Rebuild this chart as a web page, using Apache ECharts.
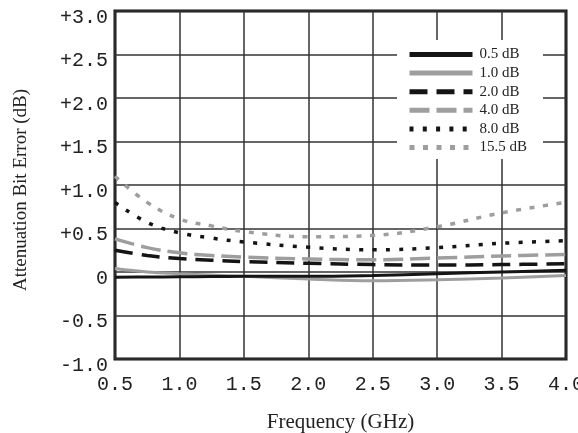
<!DOCTYPE html>
<html>
<head>
<meta charset="utf-8">
<script src="https://cdn.jsdelivr.net/npm/echarts@6/dist/echarts.min.js"></script>
<style>
html,body{margin:0;padding:0;background:#fff;}
#c{width:578px;height:433px;}
</style>
</head>
<body>
<div id="c"></div>
<script>
var freqs = [0.5, 0.75, 1.0, 1.25, 1.5, 2.0, 2.5, 3.0, 3.5, 4.0];
var names = ['0.5 dB', '1.0 dB', '2.0 dB', '4.0 dB', '8.0 dB', '15.5 dB'];
var err05  = [-0.06, -0.058, -0.055, -0.052, -0.05, -0.05, -0.04, -0.02, 0.0, 0.02];
var err10  = [0.04, 0.0, -0.02, -0.035, -0.05, -0.08, -0.1, -0.09, -0.07, -0.04];
var err20  = [0.25, 0.19, 0.155, 0.135, 0.12, 0.1, 0.085, 0.08, 0.085, 0.095];
var err40  = [0.38, 0.28, 0.22, 0.19, 0.17, 0.15, 0.14, 0.16, 0.185, 0.2];
var err80  = [0.8, 0.57, 0.45, 0.39, 0.345, 0.285, 0.255, 0.28, 0.33, 0.36];
var err155 = [1.1, 0.8, 0.61, 0.53, 0.465, 0.405, 0.42, 0.52, 0.68, 0.8];
var yTitle = 'Attenuation Bit Error (dB)';
var xTitle = 'Frequency (GHz)';

var BLACK = '#141414', GRAY = '#9e9e9e';
function pairs(arr){ return freqs.map(function(f,i){ return [f, arr[i]]; }); }
var styles = [
  {color: BLACK, type: 'solid', width: 3},
  {color: GRAY, type: 'solid', width: 3},
  {color: BLACK, type: [18, 9], width: 3.5},
  {color: GRAY, type: [20, 7], width: 3.5},
  {color: BLACK, type: [4, 9.3], width: 3.5},
  {color: GRAY, type: [5, 8.5], width: 3.5}
];
var allData = [err05, err10, err20, err40, err80, err155];
var series = allData.map(function(d, i){
  return {
    name: names[i], type: 'line', data: pairs(d), smooth: 0.4,
    symbol: 'none', showSymbol: false,
    lineStyle: {color: styles[i].color, type: styles[i].type, width: styles[i].width},
    itemStyle: {color: styles[i].color},
    z: 10 - i
  };
});

var chart = echarts.init(document.getElementById('c'), null, {renderer: 'canvas'});
chart.setOption({
  animation: false,
  backgroundColor: '#fff',
  grid: {left: 115, right: 12, top: 11, bottom: 74, outerBoundsMode: 'none', containLabel: false,
    show: true, borderWidth: 3, borderColor: '#111', backgroundColor: 'transparent'},
  xAxis: {
    type: 'value', min: 0.5, max: 4.0, interval: 0.5,
    name: xTitle, nameLocation: 'middle', nameGap: 53,
    nameTextStyle: {fontFamily: 'Liberation Serif', fontSize: 21, color: '#222'},
    axisLine: {show: false}, axisTick: {show: false},
    splitLine: {show: true, lineStyle: {color: '#333', width: 1.5}},
    axisLabel: {fontFamily: 'Liberation Mono', fontSize: 20, color: '#222', margin: 16, hideOverlap: false,
      formatter: function(v){ return v.toFixed(1); }}
  },
  yAxis: {
    type: 'value', min: -1.0, max: 3.0, interval: 0.5,
    axisLine: {show: false}, axisTick: {show: false},
    splitLine: {show: true, lineStyle: {color: '#333', width: 1.5}},
    axisLabel: {margin: 7,
      rich: {a: {fontFamily: 'Liberation Mono', fontSize: 20, color: '#222', padding: [13, 0, 0, 0]}},
      formatter: function(v){
        var s = v > 0 ? '+' + v.toFixed(1) : (v === 0 ? '0' : v.toFixed(1));
        return '{a|' + s + '}';
      }}
  },
  legend: {
    orient: 'vertical', left: 397, top: 40,
    padding: [7, 16, 4, 10], itemGap: 3.6, itemWidth: 63, itemHeight: 14,
    backgroundColor: '#fff',
    lineStyle: {width: 5},
    itemStyle: {opacity: 0},
    textStyle: {fontFamily: 'Liberation Serif', fontSize: 15, color: '#222', padding: [0, 0, 0, 2]},
    data: names
  },
  graphic: [{
    type: 'text', x: 21, y: 190, rotation: Math.PI / 2,
    style: {text: yTitle, fontFamily: 'Liberation Serif', fontSize: 19, fill: '#222', align: 'center', verticalAlign: 'middle'}
  }],
  series: series
});
</script>
</body>
</html>
